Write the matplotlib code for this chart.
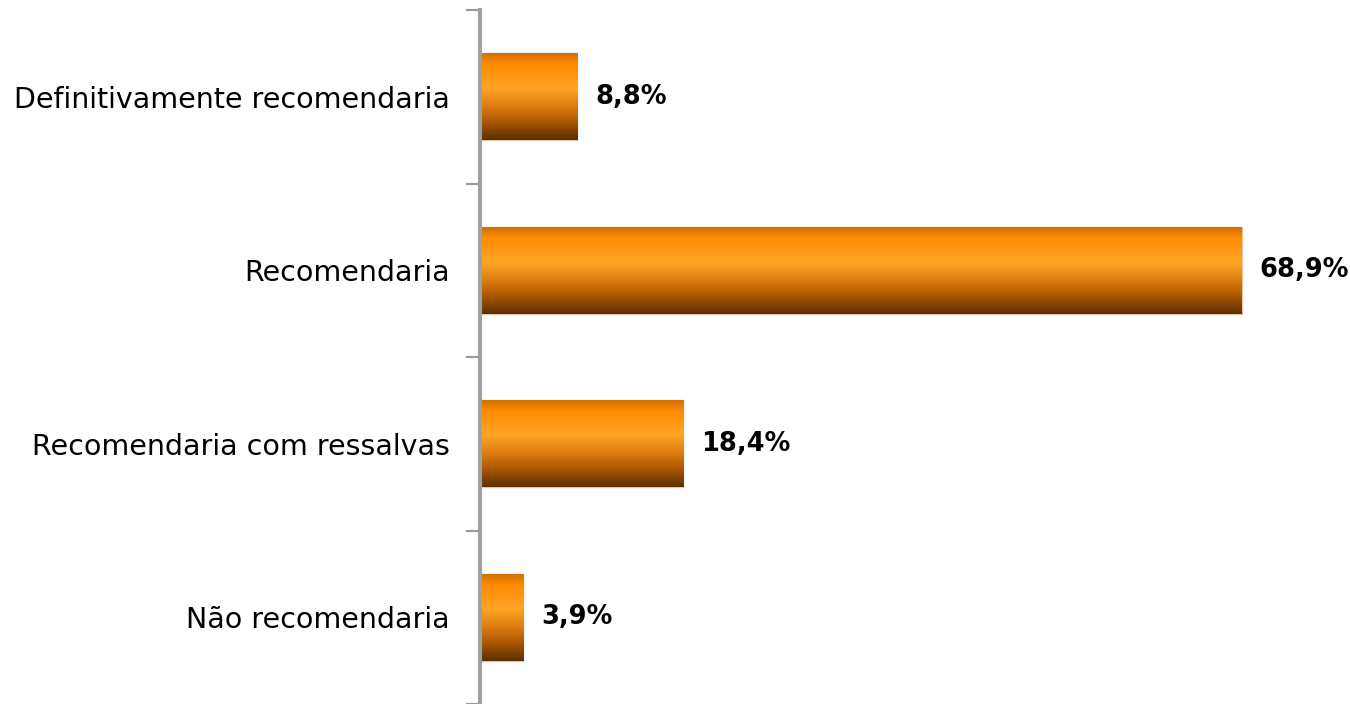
import numpy as np
import matplotlib.pyplot as plt
from matplotlib.colors import LinearSegmentedColormap

categorias = ['Definitivamente recomendaria', 'Recomendaria',
              'Recomendaria com ressalvas', 'Não recomendaria']
valores = [8.8, 68.9, 18.4, 3.9]
rotulos = ['8,8%', '68,9%', '18,4%', '3,9%']

# gradiente vertical das barras (topo -> base)
grad = LinearSegmentedColormap.from_list('laranja', [
    (0.0, '#D07000'), (0.12, '#FF8A00'), (0.4, '#FFA526'),
    (0.6, '#E07E10'), (0.8, '#A85600'), (1.0, '#5A2E00')])

fig = plt.figure(figsize=(13.5, 7.04), dpi=100)
ax = fig.add_axes([480 / 1350, 0.0, 1 - 480 / 1350, 694 / 704])

y = np.arange(len(categorias))
h = 0.5
bars = ax.barh(y, valores, height=h, color='none', edgecolor='#E8C8A0', linewidth=1)
img = np.linspace(0, 1, 256).reshape(-1, 1)
for b in bars:
    x0, y0 = b.get_x(), b.get_y()
    w, hh = b.get_width(), b.get_height()
    ax.imshow(img, cmap=grad, aspect='auto', extent=(x0, x0 + w, y0 + hh, y0),
              zorder=1, interpolation='bilinear')

for yi, v, t in zip(y, valores, rotulos):
    ax.text(v + 1.6, yi, t, va='center', ha='left', fontsize=18.5, fontweight='bold')

ax.set_xlim(0, 78.7)
ax.set_ylim(len(categorias) - 0.5, -0.5)
ax.set_yticks(np.arange(-0.5, len(categorias), 1))
ax.set_yticklabels([])
ax.set_yticks(y, minor=True)
ax.set_yticklabels(categorias, minor=True, fontsize=20.5)
ax.tick_params(axis='y', which='major', length=10, width=1.5, color='#999999', direction='out')
ax.tick_params(axis='y', which='minor', length=0, pad=22)
ax.set_xticks([])
for s in ['top', 'right', 'bottom']:
    ax.spines[s].set_visible(False)
ax.spines['left'].set_color('#A0A0A0')
ax.spines['left'].set_linewidth(3)

fig.savefig('out.png', dpi=100)
